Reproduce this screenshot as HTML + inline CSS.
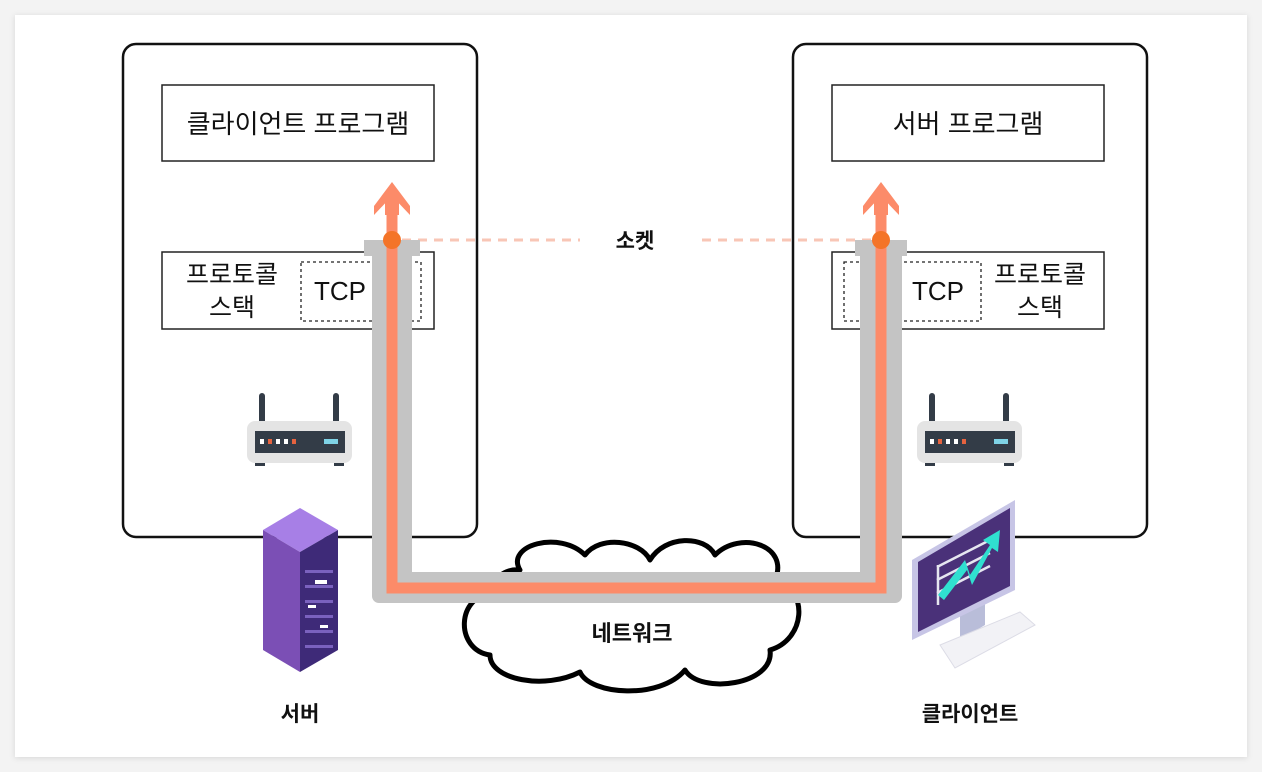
<!DOCTYPE html>
<html><head><meta charset="utf-8"><style>
html,body{margin:0;padding:0;background:#f3f3f3;}
svg{display:block}
text{font-family:"Liberation Sans","Noto Sans CJK KR",sans-serif;fill:#111}
</style></head><body>
<svg width="1262" height="772" viewBox="0 0 1262 772" xmlns="http://www.w3.org/2000/svg">
<defs><filter id="sh" x="-5%" y="-5%" width="110%" height="110%"><feDropShadow dx="0" dy="1" stdDeviation="3" flood-color="#000" flood-opacity="0.12"/></filter></defs>
<rect x="15" y="15" width="1232" height="742" fill="#fff" filter="url(#sh)"/>

<rect x="123" y="44" width="354" height="493" rx="13" fill="#fff" stroke="#111" stroke-width="2.5"/>
<rect x="793" y="44" width="354" height="493" rx="13" fill="#fff" stroke="#111" stroke-width="2.5"/>

<rect x="162" y="85" width="272" height="76" fill="#fff" stroke="#222" stroke-width="1.5"/>
<text x="298" y="133" font-size="26" text-anchor="middle">클라이언트 프로그램</text>
<rect x="832" y="85" width="272" height="76" fill="#fff" stroke="#222" stroke-width="1.5"/>
<text x="968" y="133" font-size="26" text-anchor="middle">서버 프로그램</text>

<rect x="162" y="252" width="272" height="77" fill="#fff" stroke="#222" stroke-width="1.5"/>
<rect x="301" y="262" width="120" height="59" fill="none" stroke="#222" stroke-width="1.3" stroke-dasharray="3,3"/>
<text x="232" y="283" font-size="25" text-anchor="middle">프로토콜</text>
<text x="232" y="316" font-size="25" text-anchor="middle">스택</text>
<text x="340" y="300" font-size="26" text-anchor="middle">TCP</text>

<rect x="832" y="252" width="272" height="77" fill="#fff" stroke="#222" stroke-width="1.5"/>
<rect x="844" y="262" width="137" height="59" fill="none" stroke="#222" stroke-width="1.3" stroke-dasharray="3,3"/>
<text x="1040" y="283" font-size="25" text-anchor="middle">프로토콜</text>
<text x="1040" y="316" font-size="25" text-anchor="middle">스택</text>
<text x="938" y="300" font-size="26" text-anchor="middle">TCP</text>

<line x1="402" y1="240" x2="580" y2="240" stroke="#f8c6b6" stroke-width="3" stroke-dasharray="9,7"/>
<line x1="702" y1="240" x2="872" y2="240" stroke="#f8c6b6" stroke-width="3" stroke-dasharray="9,7"/>
<text x="635" y="248" font-size="21" font-weight="bold" text-anchor="middle">소켓</text>

<path d="M520,570 C505,545 560,530 585,555 C600,535 640,540 650,560 C665,535 705,535 715,555 C740,530 790,545 775,580 C810,590 805,640 770,650 C775,685 700,695 685,670 C660,700 590,695 580,672 C545,690 490,680 490,655 C455,650 455,595 495,592 C490,580 505,568 520,570 Z" fill="#fff" stroke="#000" stroke-width="5" stroke-linejoin="round"/>
<text x="632" y="641" font-size="22" font-weight="bold" text-anchor="middle">네트워크</text>

<rect x="364" y="240" width="56" height="16" fill="#c4c4c4"/>
<rect x="855" y="240" width="52" height="16" fill="#c4c4c4"/>
<path d="M372,250 V596 a7,7 0 0 0 7,7 H895 a7,7 0 0 0 7,-7 V250 H860 V572 H412 V250 Z" fill="#c4c4c4"/>
<path d="M392,210 V588 H881 V210" fill="none" stroke="#fc8b69" stroke-width="11"/>
<polygon points="392,182 374,206 374,215 392,196 410,215 410,206" fill="#fc8b69"/>
<polygon points="881,182 863,206 863,215 881,196 899,215 899,206" fill="#fc8b69"/>
<rect x="385" y="195" width="14" height="20" fill="#fc8b69"/>
<rect x="874" y="195" width="14" height="20" fill="#fc8b69"/>
<circle cx="392" cy="240" r="9" fill="#f47428"/>
<circle cx="881" cy="240" r="9" fill="#f47428"/>

<g id="r1">
<rect x="259" y="393" width="6" height="35" rx="3" fill="#333c47"/>
<rect x="333" y="393" width="6" height="35" rx="3" fill="#333c47"/>
<rect x="247" y="421" width="105" height="42" rx="8" fill="#e4e4e4"/>
<rect x="255" y="431" width="90" height="22" fill="#333c47"/>
<rect x="260" y="439" width="4" height="5" fill="#fff"/><rect x="268" y="439" width="4" height="5" fill="#e5633f"/>
<rect x="276" y="439" width="4" height="5" fill="#fff"/><rect x="284" y="439" width="4" height="5" fill="#fff"/>
<rect x="292" y="439" width="4" height="5" fill="#e5633f"/>
<rect x="324" y="439" width="14" height="5" fill="#7fd3e6"/>
<rect x="255" y="463" width="10" height="3" fill="#333c47"/><rect x="334" y="463" width="10" height="3" fill="#333c47"/>
</g>
<use href="#r1" x="670" y="0"/>

<polygon points="263,530 300,508 338,530 300,552" fill="#a77fe6"/>
<polygon points="263,530 300,552 300,672 263,650" fill="#7b4fb5"/>
<polygon points="300,552 338,530 338,650 300,672" fill="#3e2a78"/>
<g fill="#8a6fd0" opacity="0.8">
<rect x="305" y="570" width="28" height="3"/><rect x="305" y="585" width="28" height="3"/><rect x="305" y="600" width="28" height="3"/><rect x="305" y="615" width="28" height="3"/><rect x="305" y="630" width="28" height="3"/><rect x="305" y="645" width="28" height="3"/>
</g>
<rect x="315" y="580" width="12" height="4" fill="#fff"/><rect x="308" y="605" width="8" height="3" fill="#fff"/><rect x="320" y="625" width="8" height="3" fill="#fff"/>
<text x="300" y="721" font-size="21" font-weight="bold" text-anchor="middle">서버</text>

<polygon points="960,610 985,598 985,625 960,640" fill="#b9bdd9"/>
<polygon points="912,560 1015,500 1015,590 912,640" fill="#c7c5e6"/>
<polygon points="918,562 1010,508 1010,586 918,632" fill="#4a3179"/>
<g stroke="#e6e6f0" stroke-width="2.5">
<line x1="937" y1="567" x2="990" y2="540"/><line x1="937" y1="580" x2="990" y2="553"/><line x1="937" y1="593" x2="990" y2="566"/>
<line x1="938" y1="565" x2="938" y2="605"/>
</g>
<polygon points="938,595 965,560 970,575 990,545 983,540 1000,530 998,552 992,548 972,585 967,570 944,600" fill="#30e0d0"/>
<polygon points="940,645 1020,612 1035,625 955,668" fill="#f2f2f6" stroke="#dcdce6"/>
<text x="970" y="721" font-size="21" font-weight="bold" text-anchor="middle">클라이언트</text>
</svg>
</body></html>
